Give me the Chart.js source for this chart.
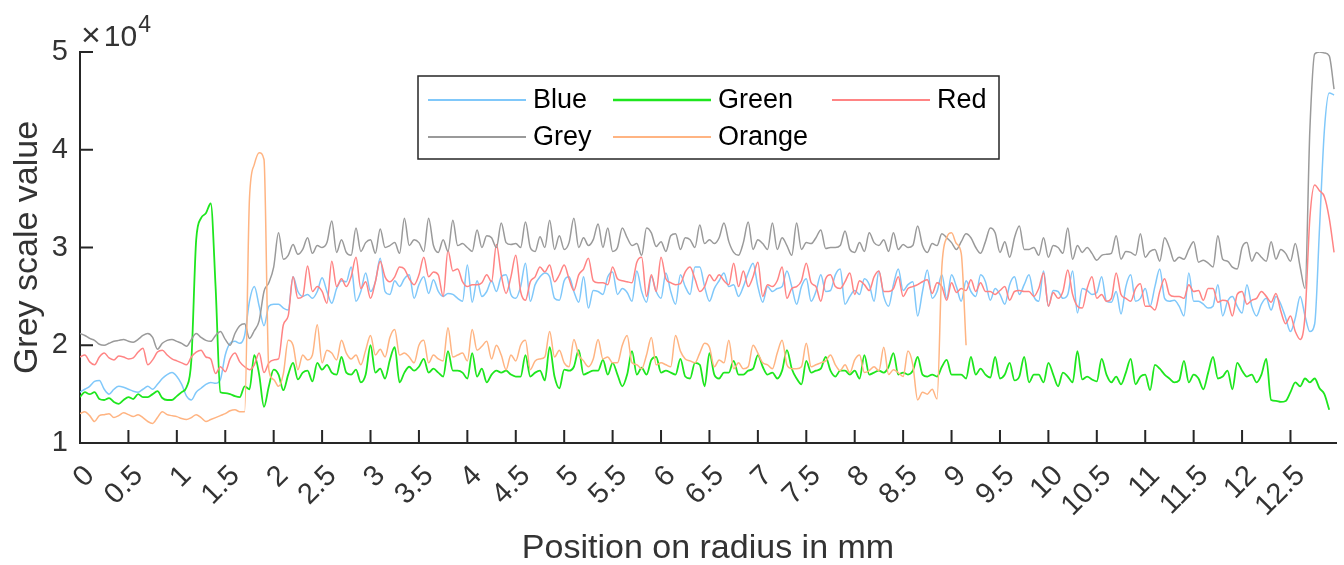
<!DOCTYPE html>
<html>
<head>
<meta charset="utf-8">
<script src="https://cdn.jsdelivr.net/npm/chart.js@4/dist/chart.umd.min.js"></script>
<style>
  html, body { margin: 0; padding: 0; background: #fff; }
  #wrap { width: 1344px; height: 565px; position: relative; }
</style>
</head>
<body>
<div id="wrap"><canvas id="profile"></canvas></div>
<script>
// samples every 0.05 mm along the radius, values in units of 10^4
const X_STEP = 0.05;
const X_TICKS = [0, 0.5, 1, 1.5, 2, 2.5, 3, 3.5, 4, 4.5, 5, 5.5, 6, 6.5, 7, 7.5, 8, 8.5, 9, 9.5, 10, 10.5, 11, 11.5, 12, 12.5];
const Y_TICKS = [1, 2, 3, 4, 5];
const SERIES_NAMES = ['Blue', 'Green', 'Red', 'Grey', 'Orange'];

const blueVals = [
  1.52, 1.55, 1.58, 1.63, 1.64, 1.55, 1.50, 1.55, 1.58, 1.57,
  1.55, 1.53, 1.52, 1.55, 1.58, 1.55, 1.60, 1.66, 1.70, 1.72,
  1.68, 1.60, 1.48, 1.44, 1.52, 1.56, 1.60, 1.62, 1.61, 1.65,
  1.90, 2.02, 2.04, 2.02, 2.10, 2.45, 2.60, 2.40, 2.20, 2.40,
  2.42, 2.42, 2.38, 2.36, 2.70, 2.55, 2.50, 2.52, 2.48, 2.55,
  2.69, 2.55, 2.43, 2.58, 2.66, 2.65, 2.80, 2.45, 2.55, 2.74,
  2.55, 2.65, 2.89, 2.55, 2.52, 2.66, 2.60, 2.68, 2.72, 2.48,
  2.62, 2.70, 2.53, 2.67, 2.55, 2.50, 2.53, 2.52, 2.48, 2.45,
  2.82, 2.44, 2.66, 2.50, 2.55, 2.66, 2.55, 2.70, 2.72, 2.52,
  2.48, 2.60, 2.84, 2.45, 2.62, 2.70, 2.74, 2.70, 2.48, 2.46,
  2.66, 2.70, 2.55, 2.44, 2.70, 2.38, 2.56, 2.55, 2.52, 2.70,
  2.75, 2.52, 2.58, 2.54, 2.45, 2.76, 2.55, 2.44, 2.70, 2.55,
  2.48, 2.74, 2.55, 2.42, 2.72, 2.60, 2.52, 2.80, 2.80, 2.60,
  2.45, 2.58, 2.66, 2.74, 2.60, 2.62, 2.50, 2.60, 2.74, 2.84,
  2.60, 2.44, 2.60, 2.55, 2.58, 2.60, 2.76, 2.60, 2.42, 2.60,
  2.68, 2.45, 2.55, 2.72, 2.55, 2.56, 2.72, 2.78, 2.42, 2.50,
  2.56, 2.52, 2.68, 2.62, 2.45, 2.76, 2.50, 2.40, 2.62, 2.78,
  2.56, 2.62, 2.65, 2.30, 2.55, 2.77, 2.48, 2.55, 2.72, 2.48,
  2.72, 2.60, 2.45, 2.66, 2.55, 2.50, 2.72, 2.65, 2.46, 2.58,
  2.52, 2.42, 2.62, 2.70, 2.52, 2.62, 2.72, 2.50, 2.45, 2.76,
  2.40, 2.56, 2.55, 2.48, 2.52, 2.76, 2.33, 2.58, 2.56, 2.52,
  2.54, 2.70, 2.45, 2.44, 2.55, 2.32, 2.60, 2.72, 2.45, 2.48,
  2.58, 2.40, 2.60, 2.78, 2.48, 2.45, 2.46, 2.40, 2.30, 2.74,
  2.45, 2.45, 2.42, 2.38, 2.40, 2.62, 2.30, 2.45, 2.50, 2.40,
  2.33, 2.62, 2.40, 2.30, 2.42, 2.48, 2.36, 2.50, 2.42, 2.28,
  2.14, 2.28, 2.50, 2.30, 2.14, 2.22, 3.20, 4.20, 4.58, 4.56
];

const greenVals = [
  1.47, 1.52, 1.50, 1.52, 1.45, 1.44, 1.46, 1.42, 1.40, 1.44,
  1.47, 1.45, 1.50, 1.47, 1.47, 1.50, 1.53, 1.46, 1.44, 1.44,
  1.48, 1.52, 1.57, 1.85, 3.08, 3.30, 3.35, 3.45, 2.60, 1.52,
  1.51, 1.50, 1.48, 1.47, 1.58, 1.55, 1.90, 1.70, 1.37, 1.58,
  1.75, 1.70, 1.54, 1.70, 1.82, 1.65, 1.72, 1.74, 1.63, 1.82,
  1.75, 1.80, 1.72, 1.70, 1.88, 1.72, 1.70, 1.75, 1.62, 1.70,
  2.00, 1.72, 1.76, 1.66, 1.85, 1.98, 1.62, 1.72, 1.78, 1.74,
  1.78, 1.86, 1.72, 1.76, 1.72, 1.68, 1.94, 1.74, 1.74, 1.72,
  1.66, 1.92, 1.68, 1.76, 1.62, 1.70, 1.74, 1.72, 1.74, 1.70,
  1.68, 1.68, 1.90, 1.68, 1.72, 1.74, 1.64, 1.98, 1.68, 1.56,
  1.75, 1.74, 1.78, 1.95, 1.70, 1.72, 1.74, 1.74, 1.85, 1.70,
  1.82, 1.70, 1.58, 1.70, 1.94, 1.70, 1.77, 1.70, 1.85, 1.88,
  1.72, 1.74, 1.72, 1.70, 1.86, 1.68, 1.66, 1.82, 1.80, 1.58,
  1.92, 1.70, 1.66, 1.72, 1.72, 1.84, 1.70, 1.70, 1.74, 1.76,
  1.90, 1.78, 1.70, 1.72, 1.66, 1.74, 1.95, 1.76, 1.66, 1.60,
  1.84, 1.72, 1.74, 1.76, 1.88, 1.74, 1.68, 1.74, 1.74, 1.70,
  1.74, 1.66, 1.90, 1.70, 1.72, 1.74, 1.72, 1.78, 1.92, 1.70,
  1.72, 1.70, 1.74, 1.88, 1.70, 1.68, 1.70, 1.68, 1.78, 1.85,
  1.70, 1.70, 1.70, 1.66, 1.88, 1.70, 1.76, 1.70, 1.67, 1.88,
  1.66, 1.70, 1.82, 1.64, 1.68, 1.88, 1.62, 1.70, 1.70, 1.62,
  1.82, 1.70, 1.58, 1.72, 1.68, 1.62, 1.94, 1.65, 1.68, 1.65,
  1.63, 1.86, 1.70, 1.62, 1.68, 1.60, 1.72, 1.86, 1.60, 1.68,
  1.70, 1.54, 1.80, 1.76, 1.70, 1.66, 1.62, 1.64, 1.84, 1.62,
  1.70, 1.66, 1.55, 1.72, 1.88, 1.66, 1.68, 1.74, 1.55, 1.82,
  1.74, 1.68, 1.70, 1.62, 1.70, 1.86, 1.44, 1.43, 1.42, 1.43,
  1.52, 1.62, 1.58, 1.66, 1.62, 1.66, 1.56, 1.50, 1.34
];

const redVals = [
  1.88, 1.90, 1.83, 1.80, 1.88, 1.92, 1.87, 1.85, 1.89, 1.88,
  1.86, 1.87, 1.93, 1.97, 1.80, 1.85, 1.93, 1.95, 1.90, 1.86,
  1.84, 1.82, 1.80, 1.88, 1.93, 1.95, 1.88, 1.86, 1.71, 1.78,
  1.73, 1.86, 1.92, 1.83, 1.78, 1.75, 1.80, 1.92, 1.72, 1.82,
  1.85, 1.86, 2.21, 2.30, 2.70, 2.48, 2.50, 2.81, 2.55, 2.60,
  2.55, 2.43, 2.86, 2.60, 2.68, 2.60, 2.70, 2.90, 2.58, 2.65,
  2.48, 2.65, 2.86, 2.70, 2.65, 2.70, 2.80, 2.78, 2.68, 2.62,
  2.72, 2.90, 2.70, 2.75, 2.72, 2.50, 2.97, 2.76, 2.78, 2.65,
  2.60, 2.62, 2.62, 2.64, 2.72, 2.65, 3.03, 2.72, 2.53, 2.70,
  2.92, 2.55, 2.46, 2.65, 2.70, 2.80, 2.75, 2.82, 2.65, 2.72,
  2.82, 2.68, 2.56, 2.72, 2.78, 2.89, 2.66, 2.64, 2.64, 2.62,
  2.80, 2.68, 2.66, 2.65, 2.64, 2.85, 2.90, 2.50, 2.72, 2.55,
  2.90, 2.68, 2.64, 2.62, 2.63, 2.75, 2.80, 2.68, 2.55, 2.60,
  2.72, 2.66, 2.72, 2.66, 2.62, 2.84, 2.60, 2.76, 2.60, 2.70,
  2.85, 2.50, 2.62, 2.60, 2.66, 2.80, 2.48, 2.58, 2.60, 2.66,
  2.84, 2.64, 2.60, 2.45, 2.68, 2.72, 2.60, 2.58, 2.65, 2.74,
  2.52, 2.66, 2.62, 2.56, 2.70, 2.76, 2.55, 2.55, 2.58, 2.70,
  2.50, 2.58, 2.60, 2.62, 2.65, 2.67, 2.53, 2.64, 2.60, 2.46,
  2.64, 2.54, 2.58, 2.56, 2.67, 2.55, 2.64, 2.55, 2.55, 2.52,
  2.56, 2.60, 2.46, 2.55, 2.56, 2.55, 2.55, 2.50, 2.58, 2.74,
  2.40, 2.54, 2.48, 2.55, 2.77, 2.52, 2.40, 2.38, 2.58, 2.70,
  2.48, 2.52, 2.45, 2.48, 2.74, 2.52, 2.48, 2.45, 2.58, 2.63,
  2.40, 2.40, 2.36, 2.55, 2.68, 2.52, 2.50, 2.50, 2.48, 2.62,
  2.55, 2.56, 2.46, 2.58, 2.58, 2.44, 2.46, 2.45, 2.30, 2.52,
  2.55, 2.42, 2.46, 2.48, 2.55, 2.50, 2.44, 2.53, 2.35, 2.22,
  2.30, 2.14, 2.06, 2.30, 3.30, 3.64, 3.58, 3.52, 3.30, 2.95
];

const greyVals = [
  2.12, 2.10, 2.07, 2.05, 2.01, 2.00, 2.02, 2.04, 2.05, 2.06,
  2.04, 2.03, 2.06, 2.10, 2.12, 2.08, 1.96, 2.02, 2.05, 2.06,
  2.04, 2.02, 1.99, 2.06, 2.12, 2.08, 2.05, 2.04, 2.10, 2.14,
  2.06, 2.00, 2.12, 2.20, 2.22, 2.07, 2.15, 2.25, 2.55, 2.64,
  2.80, 3.15, 2.88, 2.92, 3.03, 2.93, 2.98, 3.10, 2.94, 3.02,
  3.00, 3.05, 3.27, 2.95, 3.08, 2.95, 2.92, 3.20, 2.96, 3.05,
  3.08, 2.94, 3.19, 3.00, 3.02, 3.05, 2.94, 3.30, 3.02, 3.08,
  3.05, 2.96, 3.30, 3.02, 2.95, 3.08, 2.96, 3.28, 3.02, 3.04,
  3.00, 2.96, 3.18, 3.00, 3.12, 3.10, 3.00, 3.25, 3.05, 3.03,
  3.04, 3.00, 3.26, 3.00, 2.96, 3.11, 3.00, 3.28, 2.98, 3.12,
  2.98, 3.05, 3.30, 3.00, 3.10, 3.02, 3.08, 3.24, 3.00, 3.20,
  2.96, 3.00, 3.20, 3.10, 3.02, 3.04, 2.92, 3.20, 3.15, 3.01,
  3.06, 2.96, 3.12, 3.14, 2.98, 3.10, 3.08, 3.00, 3.23, 3.04,
  3.08, 3.04, 3.10, 3.25, 3.06, 2.95, 2.92, 3.05, 3.26, 2.98,
  3.08, 3.04, 2.98, 3.25, 2.98, 3.10, 3.02, 2.92, 3.25, 2.98,
  3.05, 3.04, 3.10, 3.18, 2.99, 3.00, 3.00, 3.02, 3.17, 2.98,
  2.95, 3.05, 2.96, 3.15, 3.05, 3.02, 3.08, 2.96, 3.15, 2.98,
  3.03, 3.00, 3.02, 3.22, 3.02, 2.95, 3.04, 3.02, 3.14, 3.10,
  3.05, 2.98, 3.06, 3.14, 3.10, 3.00, 2.94, 3.06, 3.20, 3.15,
  2.95, 3.06, 2.90, 3.10, 3.22, 2.98, 2.98, 3.00, 2.92, 3.10,
  2.90, 3.02, 3.00, 2.94, 3.20, 2.88, 3.02, 2.95, 3.00, 2.94,
  2.87, 2.92, 2.93, 2.94, 3.12, 2.88, 2.96, 2.95, 2.92, 3.14,
  2.90, 2.96, 2.98, 2.86, 3.10, 3.00, 2.86, 2.90, 2.88, 2.98,
  3.06, 2.85, 2.87, 2.84, 2.80, 3.12, 2.88, 2.86, 2.80, 2.78,
  3.00, 3.05, 2.86, 2.95, 2.90, 2.86, 3.06, 2.88, 2.98, 2.94,
  2.86, 3.04, 2.80, 2.58, 4.20, 4.98, 5.00, 4.99, 4.96, 4.62
];

const orangeVals = [
  1.30, 1.32, 1.28, 1.22, 1.28, 1.29, 1.30, 1.26, 1.28, 1.31,
  1.29, 1.27, 1.29, 1.26, 1.22, 1.20, 1.26, 1.32, 1.29, 1.28,
  1.27, 1.25, 1.24, 1.26, 1.29, 1.26, 1.22, 1.24, 1.26, 1.28,
  1.30, 1.33, 1.34, 1.32, 1.32, 3.50, 3.85, 3.97, 3.90, 1.75,
  1.65, 1.58, 1.71, 2.05, 2.00, 1.75, 1.90, 1.85, 1.90, 2.21,
  1.82, 1.95, 1.92, 1.85, 2.05, 1.92, 1.86, 1.90, 1.80, 1.95,
  2.10, 1.90, 1.96, 1.88, 2.08, 2.16, 1.90, 1.92, 1.88, 1.82,
  2.00, 2.05, 1.82, 1.90, 1.86, 1.84, 2.18, 1.88, 1.90, 1.92,
  1.84, 2.16, 1.95, 1.99, 2.04, 1.86, 2.00, 1.90, 1.75, 1.90,
  1.84, 2.00, 2.05, 1.75, 1.84, 1.86, 1.88, 2.14, 1.88, 1.95,
  1.82, 1.78, 2.06, 1.90, 1.84, 1.78, 1.86, 2.06, 1.86, 1.88,
  1.82, 1.82, 2.00, 2.10, 1.82, 1.80, 1.76, 1.90, 2.08, 1.80,
  1.82, 1.80, 1.78, 2.10, 1.94, 1.86, 1.84, 1.82, 1.92, 2.02,
  1.98, 1.78, 1.85, 1.82, 2.05, 1.76, 1.82, 1.76, 1.78, 2.00,
  1.92, 1.82, 1.80, 1.76, 1.92, 2.05, 1.80, 1.76, 1.76, 1.78,
  2.02, 1.78, 1.80, 1.82, 1.84, 1.90, 1.80, 1.74, 1.80, 1.72,
  1.85, 1.90, 1.72, 1.74, 1.78, 1.74, 1.98, 1.70, 1.75, 1.72,
  1.68, 1.94, 1.80, 1.44, 1.52, 1.50, 1.55, 1.45, 2.80, 3.10,
  3.15, 3.04, 2.94, 2.00
];

const COLORS = {
  Blue: '#80c8fa',
  Green: '#1ee61e',
  Red: '#ff8484',
  Grey: '#9a9a9a',
  Orange: '#ffb482'
};
const AXIS_COLOR = '#262626';
const TEXT_COLOR = '#333333';
const FONT = '"Liberation Sans", Arial, sans-serif';

function toPoints(vals) {
  return vals.map((v, i) => ({ x: Math.round(i * X_STEP * 100) / 100, y: v }));
}

const valuesByName = {
  Blue: blueVals,
  Green: greenVals,
  Red: redVals,
  Grey: greyVals,
  Orange: orangeVals
};

const datasets = SERIES_NAMES.map((name, idx) => ({
  label: name,
  data: toPoints(valuesByName[name]),
  borderColor: COLORS[name],
  backgroundColor: COLORS[name],
  borderWidth: name === 'Green' ? 1.8 : 1.5,
  pointRadius: 0,
  cubicInterpolationMode: 'monotone',
  fill: false,
  order: SERIES_NAMES.length - idx
}));

// MATLAB-like inward tick marks and the x10^4 exponent
const inwardTicks = {
  id: 'inwardTicks',
  afterDatasetsDraw(chart) {
    const { ctx, chartArea, scales } = chart;
    ctx.save();
    ctx.strokeStyle = AXIS_COLOR;
    ctx.lineWidth = 2;
    ctx.beginPath();
    X_TICKS.forEach((v) => {
      const px = scales.x.getPixelForValue(v);
      ctx.moveTo(px, chartArea.bottom);
      ctx.lineTo(px, chartArea.bottom - 13);
    });
    Y_TICKS.forEach((v) => {
      const py = scales.y.getPixelForValue(v);
      ctx.moveTo(chartArea.left, py);
      ctx.lineTo(chartArea.left + 13, py);
    });
    ctx.stroke();

    ctx.fillStyle = TEXT_COLOR;
    ctx.textBaseline = 'alphabetic';
    ctx.textAlign = 'left';
    let x = chartArea.left + 1;
    ctx.font = `34px ${FONT}`;
    ctx.fillText('\u00d7', x, 46);
    x += ctx.measureText('\u00d7').width + 3;
    ctx.font = `30px ${FONT}`;
    ctx.fillText('10', x, 46);
    x += ctx.measureText('10').width + 1;
    ctx.font = `23px ${FONT}`;
    ctx.fillText('4', x, 32);
    ctx.restore();
  }
};

// legend box in three columns
const boxLegend = {
  id: 'boxLegend',
  afterDraw(chart) {
    const { ctx } = chart;
    const box = { x: 418, y: 76, w: 581, h: 83 };
    const colX = [428, 613, 832];
    const rowY = [100, 137];
    ctx.save();
    ctx.fillStyle = '#ffffff';
    ctx.fillRect(box.x, box.y, box.w, box.h);
    ctx.strokeStyle = AXIS_COLOR;
    ctx.lineWidth = 1.5;
    ctx.strokeRect(box.x, box.y, box.w, box.h);
    ctx.font = `27px ${FONT}`;
    ctx.textBaseline = 'middle';
    ctx.textAlign = 'left';
    chart.data.datasets.forEach((ds, i) => {
      const cx = colX[i % 3];
      const cy = rowY[Math.floor(i / 3)];
      ctx.strokeStyle = ds.borderColor;
      ctx.lineWidth = ds.borderWidth + 0.5;
      ctx.beginPath();
      ctx.moveTo(cx, cy);
      ctx.lineTo(cx + 98, cy);
      ctx.stroke();
      ctx.fillStyle = '#000000';
      ctx.fillText(ds.label, cx + 105, cy + 1);
    });
    ctx.restore();
  }
};

const chartConfig = {
  type: 'line',
  data: { datasets },
  options: {
    responsive: false,
    animation: false,
    events: [],
    layout: { padding: { top: 52, right: 8, left: 0, bottom: 0 } },
    plugins: {
      legend: { display: false },
      tooltip: { enabled: false }
    },
    scales: {
      x: {
        type: 'linear',
        min: 0,
        max: 12.97,
        afterFit: (scale) => { scale.height = 122; },
        afterBuildTicks: (scale) => { scale.ticks = X_TICKS.map((v) => ({ value: v })); },
        grid: { display: false, drawTicks: false },
        border: { display: true, color: AXIS_COLOR, width: 2 },
        ticks: {
          minRotation: 45,
          maxRotation: 45,
          autoSkip: false,
          padding: 16,
          labelOffset: 10,
          color: TEXT_COLOR,
          font: { family: FONT, size: 29 },
          callback: (v) => `${v}`
        },
        title: {
          display: true,
          text: 'Position on radius in mm',
          color: TEXT_COLOR,
          font: { family: FONT, size: 34, lineHeight: 1 },
          padding: { top: 0, bottom: -1 }
        }
      },
      y: {
        min: 1,
        max: 5,
        afterFit: (scale) => { scale.width = 80; },
        afterBuildTicks: (scale) => { scale.ticks = Y_TICKS.map((v) => ({ value: v })); },
        grid: { display: false, drawTicks: false },
        border: { display: true, color: AXIS_COLOR, width: 2 },
        ticks: {
          padding: 12,
          color: TEXT_COLOR,
          font: { family: FONT, size: 29 },
          callback: (v) => `${v}`
        },
        title: {
          display: true,
          text: 'Grey scale value',
          color: TEXT_COLOR,
          font: { family: FONT, size: 34, lineHeight: 1 },
          padding: { top: 11, bottom: 0 }
        }
      }
    }
  },
  plugins: [inwardTicks, boxLegend]
};

const canvas = document.getElementById('profile');
canvas.width = 1344;
canvas.height = 565;
const chart = new Chart(canvas, chartConfig); /* eslint-disable-line no-unused-vars */
</script>
</body>
</html>
